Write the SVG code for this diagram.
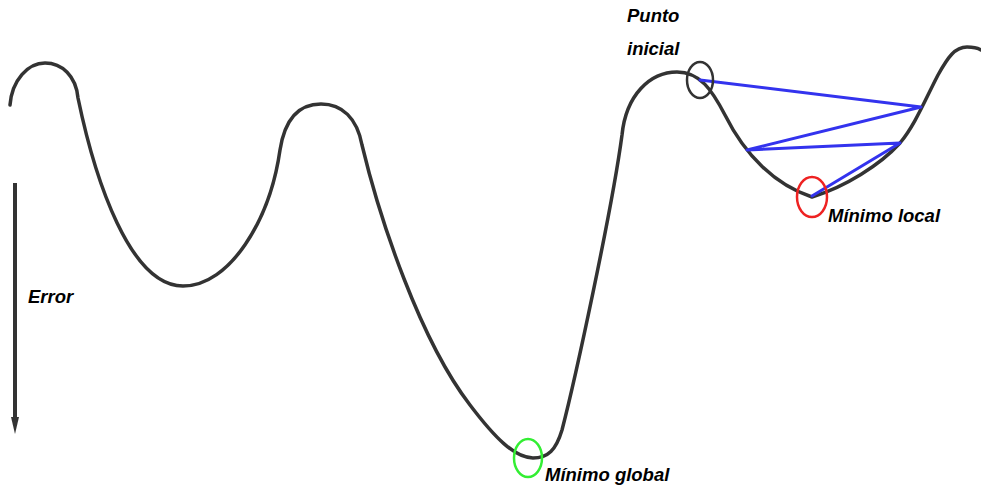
<svg xmlns="http://www.w3.org/2000/svg" width="981" height="491" viewBox="0 0 981 491">
  <style>
    .curve { fill: none; stroke: #333333; stroke-width: 3.5; stroke-linecap: round; stroke-linejoin: round; }
    .step { fill: none; stroke: #3333ee; stroke-width: 3; stroke-linejoin: round; stroke-linecap: round; }
    .ring { fill: none; stroke-width: 2.5; }
    .label { font-family: "Liberation Sans", Arial, sans-serif; font-size: 18.5px; font-weight: bold; font-style: italic; fill: #000000; }
  </style>
  <rect width="981" height="491" fill="#ffffff"/>

  <!-- error landscape -->
  <g id="landscape">
    <path class="curve" d="M10,105 C12,80 28,63 45,63 C62,63 76,76 78,98
      C95,180 130,286 183,286
      C230,286 270,220 280,150 C285,118 300,104 321,104
      C342,104 357,118 362,145
      C380,220 420,340 470,405 C495,438 515,458 533,458
      C548,458 556,450 562,430
      C575,380 612,210 622,135
      C626,95 650,72 677,72
      C700,72 712,90 725,115
      C745,155 775,185 812,197
      C845,187 880,165 900,143
      C915,125 925,100 938,75
      C948,57 955,47 967,47 C973,47 978,48 981,50"/>
  </g>

  <!-- error axis -->
  <g id="error-axis">
    <line x1="15" y1="183" x2="15" y2="418" stroke="#333333" stroke-width="4"/>
    <path d="M11,417 L19,417 L15,434 Z" fill="#333333"/>
    <text class="label" x="28" y="303">Error</text>
  </g>

  <!-- descent steps -->
  <g id="connectors">
    <polyline class="step" points="700,80 921,107 747,150 900,143 812,196"/>
  </g>

  <g id="start-point">
    <ellipse class="ring" cx="700" cy="80" rx="13" ry="18" stroke="#333333"/>
    <text class="label" x="627" y="22">Punto</text>
    <text class="label" x="627" y="55">inicial</text>
  </g>

  <g id="local-minimum">
    <ellipse class="ring" cx="812" cy="197" rx="15" ry="20" stroke="#ee2222"/>
    <text class="label" x="828" y="222">Mínimo local</text>
  </g>

  <g id="global-minimum">
    <ellipse class="ring" cx="528" cy="458" rx="14" ry="19" stroke="#33ee33"/>
    <text class="label" x="545" y="481">Mínimo global</text>
  </g>
</svg>
